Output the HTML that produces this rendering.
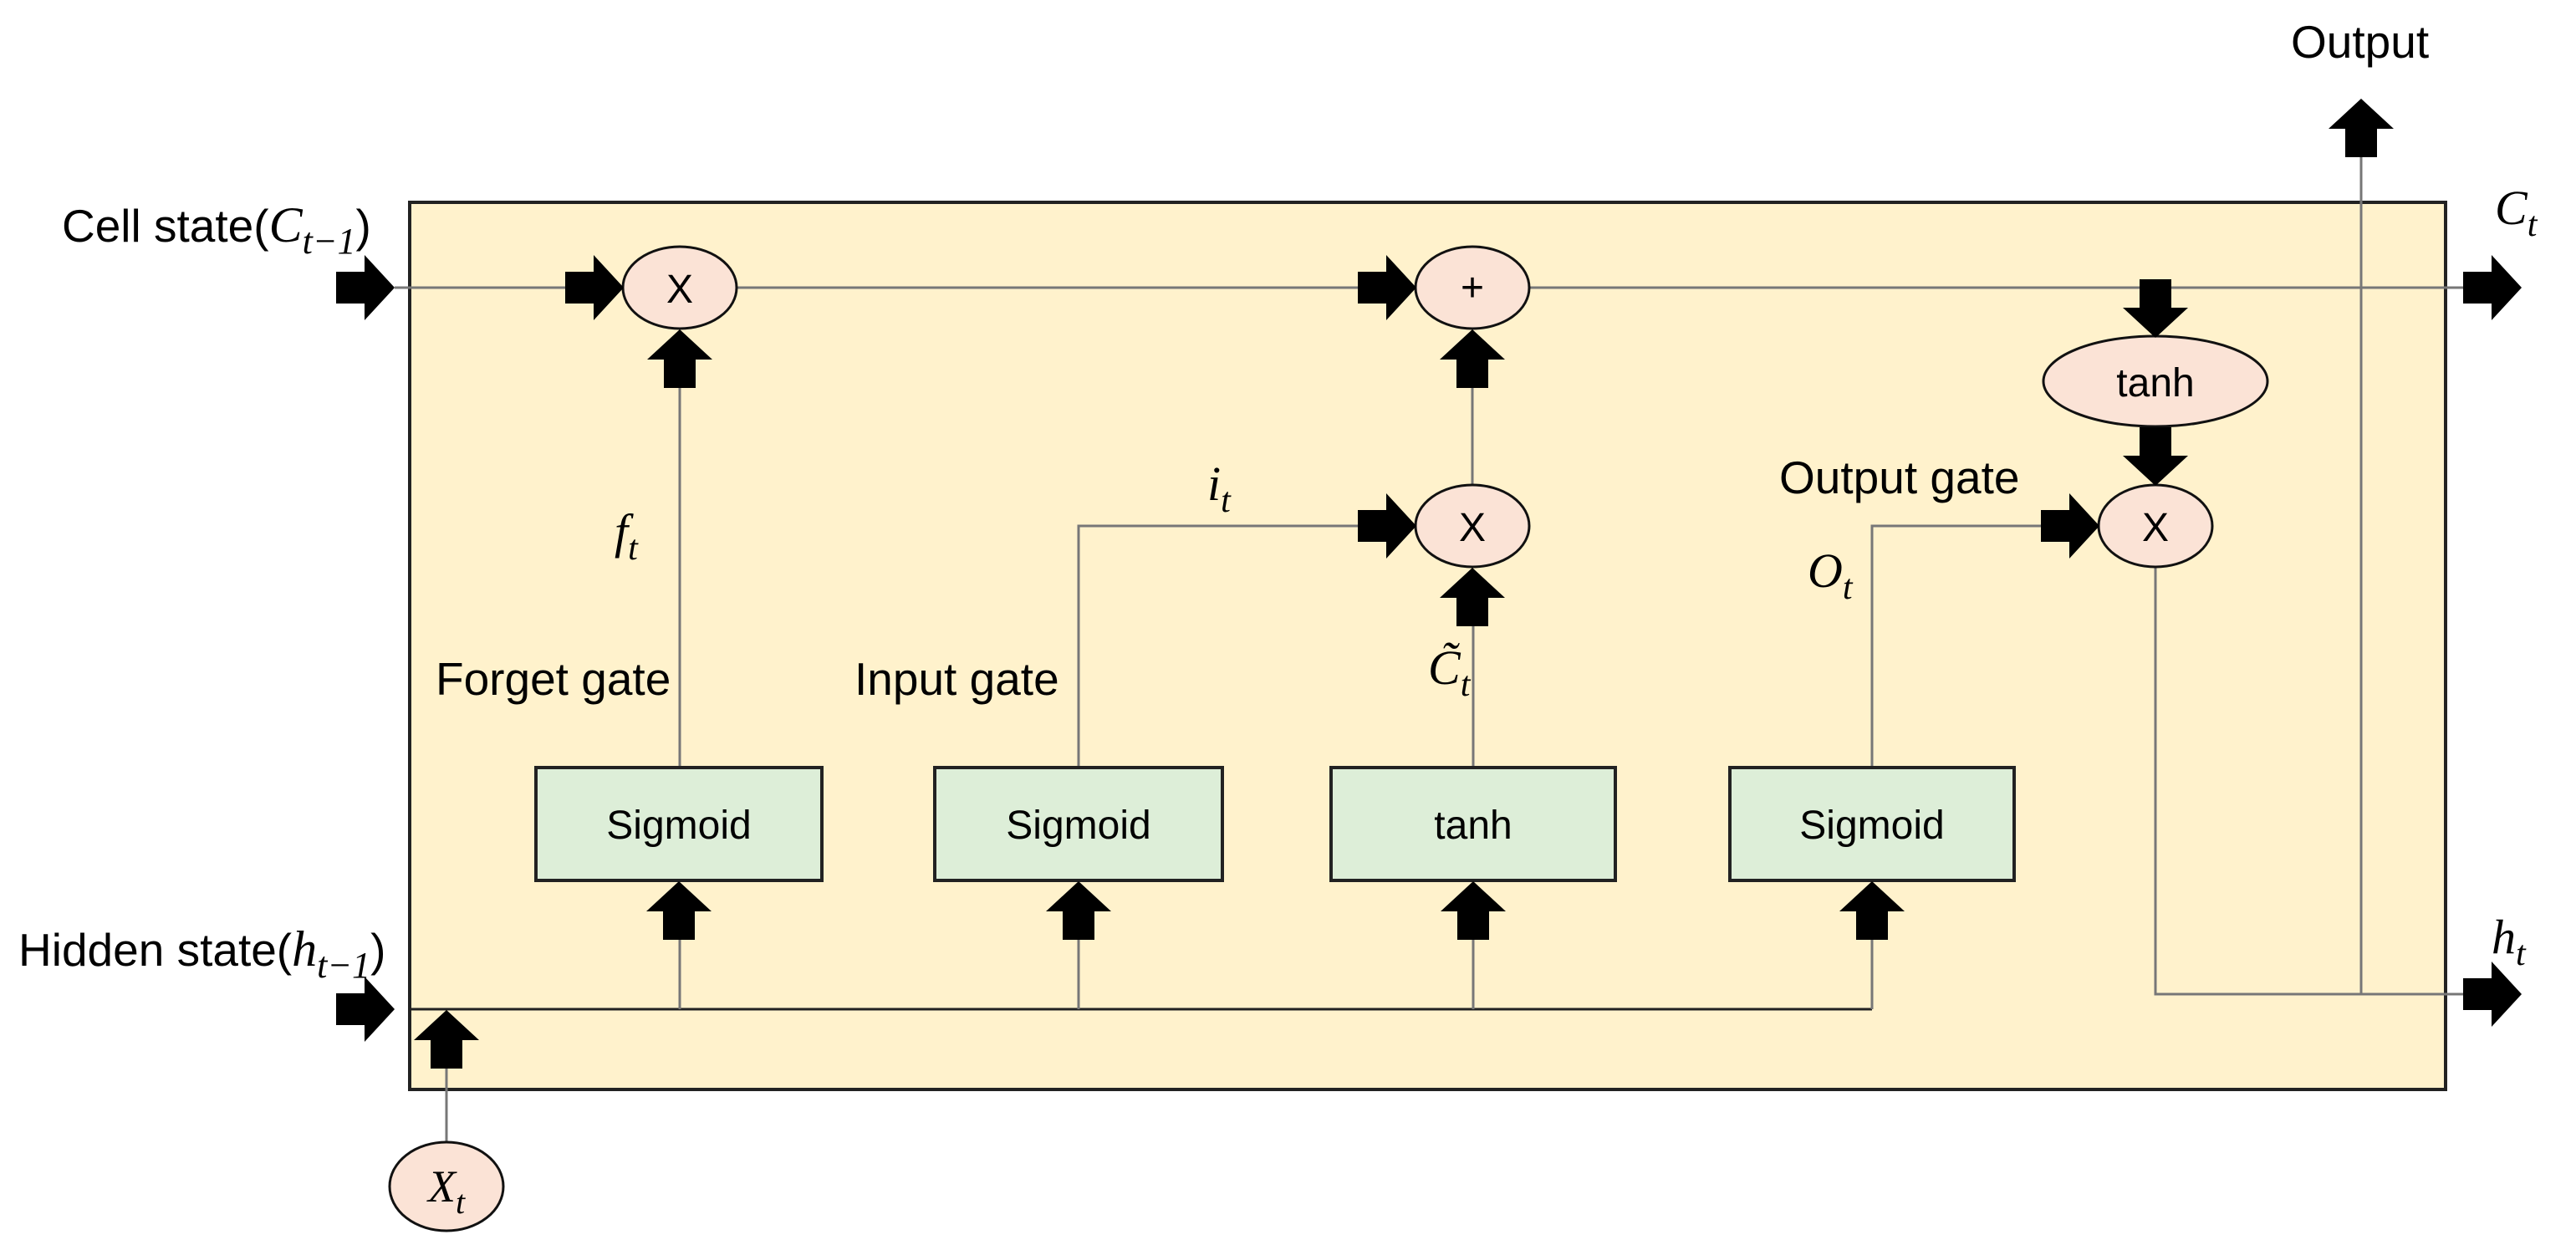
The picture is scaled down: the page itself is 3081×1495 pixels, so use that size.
<!DOCTYPE html>
<html><head><meta charset="utf-8"><style>
html,body{margin:0;padding:0;background:#fff;}
svg{display:block;}
.t{font-family:"Liberation Sans",sans-serif;font-size:55px;fill:#000;}
.n{font-family:"Liberation Sans",sans-serif;font-size:48px;fill:#000;}
.m{font-family:"Liberation Serif",serif;font-style:italic;fill:#000;}
</style></head><body>
<svg width="3081" height="1495" viewBox="0 0 3081 1495" xmlns="http://www.w3.org/2000/svg">
<defs>
<polygon id="ar" points="-70,-19 -36,-19 -36,-39 0,0 -36,39 -36,19 -70,19" fill="#000"/>
</defs>
<rect x="490" y="242" width="2435" height="1061" fill="#FFF2CC" stroke="#222" stroke-width="4"/>
<g stroke="#777" stroke-width="3" fill="none">
<line x1="472" y1="344" x2="2960" y2="344"/>
<line x1="813" y1="918" x2="813" y2="430"/>
<line x1="1761" y1="580" x2="1761" y2="430"/>
<line x1="1762" y1="918" x2="1762" y2="715"/>
<polyline points="1290,918 1290,629 1640,629"/>
<polyline points="2239,918 2239,629 2450,629"/>
<polyline points="2578,678 2578,1189 2960,1189"/>
<line x1="2824" y1="1189" x2="2824" y2="170"/>
<line x1="490" y1="1207" x2="2239" y2="1207" stroke="#222"/>
<line x1="813" y1="1207" x2="813" y2="1090"/>
<line x1="1290" y1="1207" x2="1290" y2="1090"/>
<line x1="1762" y1="1207" x2="1762" y2="1090"/>
<line x1="2239" y1="1207" x2="2239" y2="1090"/>
<line x1="534" y1="1366" x2="534" y2="1250"/>
</g>
<g fill="#DDEED8" stroke="#222" stroke-width="4">
<rect x="641" y="918" width="342" height="135"/>
<rect x="1118" y="918" width="344" height="135"/>
<rect x="1592" y="918" width="340" height="135"/>
<rect x="2069" y="918" width="340" height="135"/>
</g>
<g class="n" text-anchor="middle">
<text x="812" y="1003">Sigmoid</text>
<text x="1290" y="1003">Sigmoid</text>
<text x="1762" y="1003">tanh</text>
<text x="2239" y="1003">Sigmoid</text>
</g>
<g fill="#FBE3D6" stroke="#111" stroke-width="3">
<ellipse cx="813" cy="344" rx="68" ry="49"/>
<ellipse cx="1761" cy="344" rx="68" ry="49"/>
<ellipse cx="1761" cy="629" rx="68" ry="49"/>
<ellipse cx="2578" cy="456" rx="134" ry="54"/>
<ellipse cx="2578" cy="629" rx="68" ry="49"/>
<ellipse cx="534" cy="1419" rx="68" ry="53"/>
</g>
<g class="n" text-anchor="middle">
<text x="813" y="362">X</text>
<text x="1761" y="360">+</text>
<text x="1761" y="647">X</text>
<text x="2578" y="474">tanh</text>
<text x="2578" y="647">X</text>
</g>
<text class="m" x="512" y="1437" font-size="54">X<tspan font-size="40" dy="14">t</tspan></text>
<use href="#ar" transform="translate(472,344)"/>
<use href="#ar" transform="translate(746,344)"/>
<use href="#ar" transform="translate(1694,344)"/>
<use href="#ar" transform="translate(3016,344)"/>
<use href="#ar" transform="translate(813,394) rotate(-90)"/>
<use href="#ar" transform="translate(1761,394) rotate(-90)"/>
<use href="#ar" transform="translate(1694,629)"/>
<use href="#ar" transform="translate(1761,679) rotate(-90)"/>
<use href="#ar" transform="translate(2578,404) rotate(90)"/>
<use href="#ar" transform="translate(2578,581) rotate(90)"/>
<use href="#ar" transform="translate(2511,629)"/>
<use href="#ar" transform="translate(2824,118) rotate(-90)"/>
<use href="#ar" transform="translate(3016,1189)"/>
<use href="#ar" transform="translate(472,1207)"/>
<use href="#ar" transform="translate(812,1054) rotate(-90)"/>
<use href="#ar" transform="translate(1290,1054) rotate(-90)"/>
<use href="#ar" transform="translate(1762,1054) rotate(-90)"/>
<use href="#ar" transform="translate(2239,1054) rotate(-90)"/>
<use href="#ar" transform="translate(534,1208) rotate(-90)"/>
<text class="t" x="74" y="289">Cell state(<tspan class="m" font-size="60">C</tspan><tspan class="m" font-size="44" dy="14">t−1</tspan><tspan dy="-14">)</tspan></text>
<text class="t" x="22" y="1155">Hidden state(<tspan class="m" font-size="60">h</tspan><tspan class="m" font-size="44" dy="14">t−1</tspan><tspan dy="-14">)</tspan></text>
<text class="t" x="2740" y="69">Output</text>
<text class="m" x="2984" y="268" font-size="58">C<tspan font-size="42" dy="14">t</tspan></text>
<text class="m" x="2980" y="1140" font-size="58">h<tspan font-size="42" dy="14">t</tspan></text>
<text class="t" x="521" y="831">Forget gate</text>
<text class="t" x="1022" y="831">Input gate</text>
<text class="t" x="2128" y="590">Output gate</text>
<text class="m" x="735" y="655" font-size="58">f<tspan font-size="42" dy="14">t</tspan></text>
<text class="m" x="1444" y="598" font-size="58">i<tspan font-size="42" dy="14">t</tspan></text>
<text class="m" x="1708" y="818" font-size="58">C̃<tspan font-size="42" dy="14">t</tspan></text>
<text class="m" x="2162" y="702" font-size="58">O<tspan font-size="42" dy="14">t</tspan></text>
</svg>
</body></html>
